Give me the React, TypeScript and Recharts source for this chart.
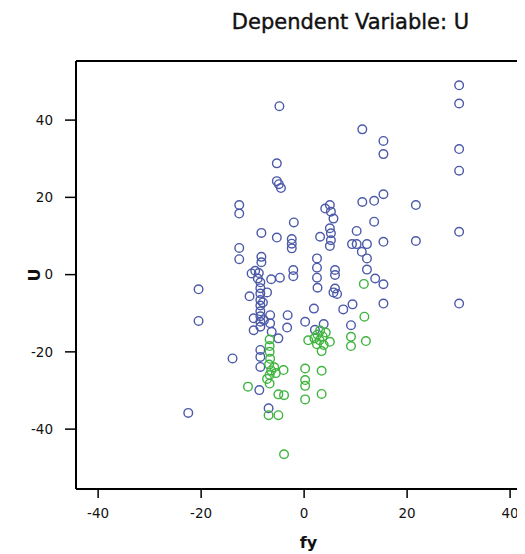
import { ScatterChart, Scatter, XAxis, YAxis, Label, ReferenceLine } from "recharts";

// [fy, U] pairs
const bluePoints: [number, number][] = [
  [-4.8, 43.6], [-5.3, 28.8], [-5.3, 24.2], [-4.9, 23.4], [-4.5, 22.4],
  [-12.6, 18.0], [-12.6, 15.8], [-8.3, 10.8], [-5.3, 9.6], [-2.0, 13.5],
  [-2.4, 9.2], [-2.4, 8.0], [-2.4, 6.8], [-12.6, 6.9], [-12.6, 4.0],
  [-8.3, 4.6], [-8.3, 3.2], [-10.2, 0.3], [-9.5, 1.0], [-8.8, 0.4],
  [-6.4, -1.2], [-4.7, -0.8], [-2.1, 1.2], [-2.1, -0.4],
  [2.5, 4.2], [2.5, 1.8], [2.5, -0.8], [2.6, -3.4], [3.1, 9.8],
  [4.1, 17.1], [5.0, 18.0], [5.2, 16.3], [5.7, 14.5], [5.0, 12.0],
  [5.2, 10.7], [5.2, 8.9], [5.0, 7.4], [9.3, 7.9], [10.2, 7.9],
  [12.2, 7.9], [15.4, 8.5], [10.2, 11.3], [13.6, 13.7], [11.3, 18.8],
  [13.6, 19.1], [15.4, 20.8], [11.2, 5.9], [12.2, 4.2], [12.2, 1.3],
  [6.0, 1.2], [6.0, -0.1], [13.8, -1.0], [15.4, -2.5], [15.4, -7.5],
  [6.0, -3.6], [5.7, -4.6], [6.4, -5.0], [9.4, -7.7], [7.6, -9.0],
  [1.9, -8.8], [-3.2, -10.5], [-3.3, -13.7], [0.2, -12.2], [2.1, -14.3],
  [3.8, -12.8], [9.1, -13.1],
  [30.1, 49.0], [30.1, 44.3], [30.1, 32.5], [30.1, 26.9], [30.1, 11.1], [30.1, -7.5],
  [11.3, 37.6], [15.4, 34.6], [15.4, 31.2], [21.7, 18.0], [21.7, 8.7],
  [-20.5, -3.8], [-20.5, -12.0], [-13.9, -21.7], [-22.5, -35.8],
  [-8.7, -29.9], [-6.9, -34.6], [-10.6, -5.6], [-9.8, -11.3], [-9.8, -14.4],
  [-8.5, -2.0], [-8.5, -3.5], [-8.5, -4.9], [-8.5, -6.6], [-8.5, -8.0],
  [-8.5, -9.5], [-8.5, -10.8], [-8.5, -12.2], [-8.5, -13.5], [-8.0, -7.2],
  [-7.8, -11.8], [-9.0, -1.0], [-7.2, -4.6],
  [-6.6, -10.5], [-6.6, -12.6], [-6.3, -14.8], [-5.0, -16.5],
  [-8.5, -19.5], [-8.5, -21.3], [-8.5, -23.9],
];

const greenPoints: [number, number][] = [
  [11.6, -2.4], [11.7, -10.9], [9.1, -16.1], [9.1, -18.5], [12.0, -17.2],
  [3.1, -14.5], [2.6, -15.5], [3.6, -16.0], [3.0, -17.0], [2.5, -18.0],
  [3.8, -18.2], [3.4, -19.8], [0.8, -17.0], [5.0, -17.4], [4.2, -15.0],
  [2.0, -16.5], [0.2, -24.3], [3.4, -24.9], [0.2, -27.3], [0.2, -28.8],
  [0.2, -32.3], [3.4, -30.9], [-4.0, -24.7], [-3.9, -31.2], [-3.9, -46.5],
  [-5.0, -36.4], [-6.9, -36.4], [-10.9, -29.0], [-5.0, -31.0],
  [-6.7, -16.8], [-6.7, -18.5], [-6.7, -20.0], [-6.6, -21.8], [-6.8, -23.3],
  [-6.4, -24.8], [-5.8, -24.0], [-6.7, -26.0], [-6.7, -28.2], [-7.2, -27.0],
  [-5.5, -25.5],
];

const xTicks = [-40, -20, 0, 20, 40];
const yTicks = [-40, -20, 0, 20, 40];
const xDomain = [-44.3, 46];
const yDomain = [-55.5, 55.3];

const blueData = bluePoints.map(([fy, U]) => ({ fy, U }));
const greenData = greenPoints.map(([fy, U]) => ({ fy, U }));

const FONT = "'DejaVu Sans', sans-serif";

const ring = (color: string) => (props: any) => (
  <circle cx={props.cx} cy={props.cy} r={4.3} fill="none" stroke={color} strokeWidth={1.4} />
);

export default function App() {
  return (
    <div style={{ position: "relative", width: 517, height: 546, overflow: "hidden", background: "#fff" }}>
      <div
        style={{
          position: "absolute", left: 0, top: 2, width: 685, textAlign: "center",
          fontFamily: FONT, fontSize: 21, color: "#111", WebkitTextStroke: "0.4px #111",
        }}
      >
        Dependent Variable: U
      </div>
      <ScatterChart width={560} height={546} margin={{ top: 53, right: 27, bottom: 25, left: 8 }}>
        <XAxis
          type="number"
          dataKey="fy"
          domain={xDomain}
          allowDataOverflow
          ticks={xTicks}
          height={40}
          tickSize={9}
          tickMargin={10}
          axisLine={{ stroke: "#000", strokeWidth: 2 }}
          tickLine={{ stroke: "#000", strokeWidth: 1.5 }}
          tick={{ fill: "#111", fontSize: 13.5, fontFamily: FONT }}
        >
          <Label value="fy" position="bottom" offset={8} style={{ fontFamily: FONT, fontSize: 16, fontWeight: "bold", fill: "#111" }} />
        </XAxis>
        <YAxis
          type="number"
          dataKey="U"
          domain={yDomain}
          allowDataOverflow
          ticks={yTicks}
          width={60}
          tickSize={11}
          tickMargin={12}
          axisLine={{ stroke: "#000", strokeWidth: 2 }}
          tickLine={{ stroke: "#000", strokeWidth: 1.5 }}
          tick={{ fill: "#111", fontSize: 13.5, fontFamily: FONT }}
        >
          <Label value="U" angle={-90} position="insideLeft" offset={18} style={{ fontFamily: FONT, fontSize: 16, fontWeight: "bold", fill: "#111", textAnchor: "middle" }} />
        </YAxis>
        <ReferenceLine y={yDomain[1]} stroke="#000" strokeWidth={2} ifOverflow="visible" />
        <Scatter data={blueData} shape={ring("#4b59a8")} isAnimationActive={false} />
        <Scatter data={greenData} shape={ring("#3db43d")} isAnimationActive={false} />
      </ScatterChart>
    </div>
  );
}
